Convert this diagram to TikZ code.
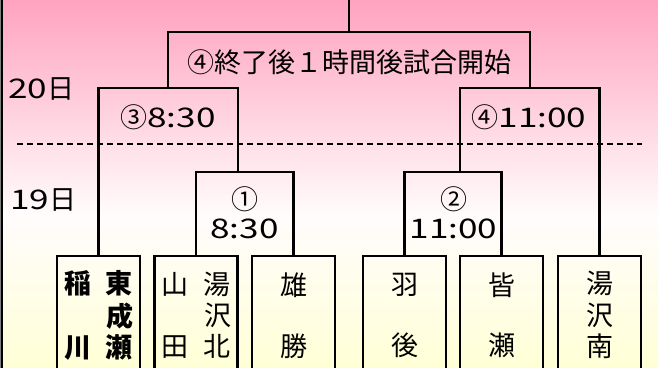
\documentclass[tikz,border=0pt]{standalone}
\usepackage{fontspec}
\setmainfont{Noto Sans CJK JP}
\newfontfamily\widenum[FakeStretch=1.3]{Noto Sans CJK JP}
\usepackage{tikz}
\usetikzlibrary{positioning}
\definecolor{toppink}{HTML}{FFA3C0}
\definecolor{midwhite}{HTML}{FFFCFC}
\definecolor{botyellow}{HTML}{FFFFD6}
\newcommand{\jikoku}[1]{{\widenum #1}}

\begin{document}
\begin{tikzpicture}[x=1pt,y=-1pt,line cap=rect,line join=miter,
    bracket/.style={line width=2.2pt,color=black},
    team/.style={draw,line width=2.2pt,anchor=north,minimum width=83pt,minimum height=125pt,inner sep=0pt},
    lbl/.style={inner sep=0pt,align=center,font=\fontsize{27}{29}\selectfont}]
    \useasboundingbox (0,0) rectangle (658,367);
    \clip (0,0) rectangle (658,367);
    % background
    \shade[top color=toppink,bottom color=midwhite] (0,0) rectangle (658,215);
    \shade[top color=midwhite,bottom color=botyellow] (0,215) rectangle (658,367);
    \draw[line width=1pt,color=gray] (0.5,0) -- (0.5,367);
    \draw[line width=2pt,color=black] (2,0) -- (2,367);
    % days
    \node[lbl,anchor=west] (d20) at (8,89) {\jikoku{20}日};
    \node[lbl,anchor=west] (d19) at (10,200) {\jikoku{19}日};
    \draw[line width=2pt,dash pattern=on 6pt off 4pt,line cap=butt] (17,144) -- (642,144);
    % teams
    \begin{scope}[font=\fontsize{27}{29.5}\selectfont]
    \node[team] (t1) at (98.5,255) {\bfseries\begin{tabular}{@{}c@{\hspace{15pt}}c@{}}稲&東\\&成\\川&瀬\end{tabular}};
    \node[team] (t2) at (196,255) {\begin{tabular}{@{}c@{\hspace{16pt}}c@{}}山&湯\\&沢\\田&北\end{tabular}};
    \node[team] (t3) at (293.5,255) {\begin{tabular}{@{}c@{}}雄\\\\勝\end{tabular}};
    \node[team] (t4) at (404.5,255) {\begin{tabular}{@{}c@{}}羽\\\\後\end{tabular}};
    \node[team] (t5) at (501.5,255) {\begin{tabular}{@{}c@{}}皆\\\\瀬\end{tabular}};
    \node[team] (t6) at (599.5,255) {\begin{tabular}{@{}c@{}}湯\\沢\\南\end{tabular}};
    \end{scope}
    % bracket tops
    \coordinate (m1top) at (238,172);
    \coordinate (m2top) at (460,172);
    \coordinate (m3top) at (168,88);
    \coordinate (m4top) at (530,88);
    \coordinate (fintop) at (349,32);
    \coordinate (champ) at (349,0);
    \draw[bracket] (t2.north) |- (m1top) -| (t3.north);
    \draw[bracket] (t4.north) |- (m2top) -| (t5.north);
    \draw[bracket] (t1.north) |- (m3top) -| (m1top);
    \draw[bracket] (m2top) |- (m4top) -| (t6.north);
    \draw[bracket] (m3top) |- (fintop) -| (m4top);
    \draw[bracket] (fintop) -- (champ);
    % match labels
    \node[lbl] (m1) at (244.5,213) {①\\\jikoku{8:30}};
    \node[lbl] (m2) at (453.5,213) {②\\\jikoku{11:00}};
    \node[lbl] (m3) at (168,117) {③\jikoku{8:30}};
    \node[lbl] (m4) at (529,117) {④\jikoku{11:00}};
    \node[lbl] (fin) at (349,62) {④終了後１時間後試合開始};
\end{tikzpicture}
\end{document}
